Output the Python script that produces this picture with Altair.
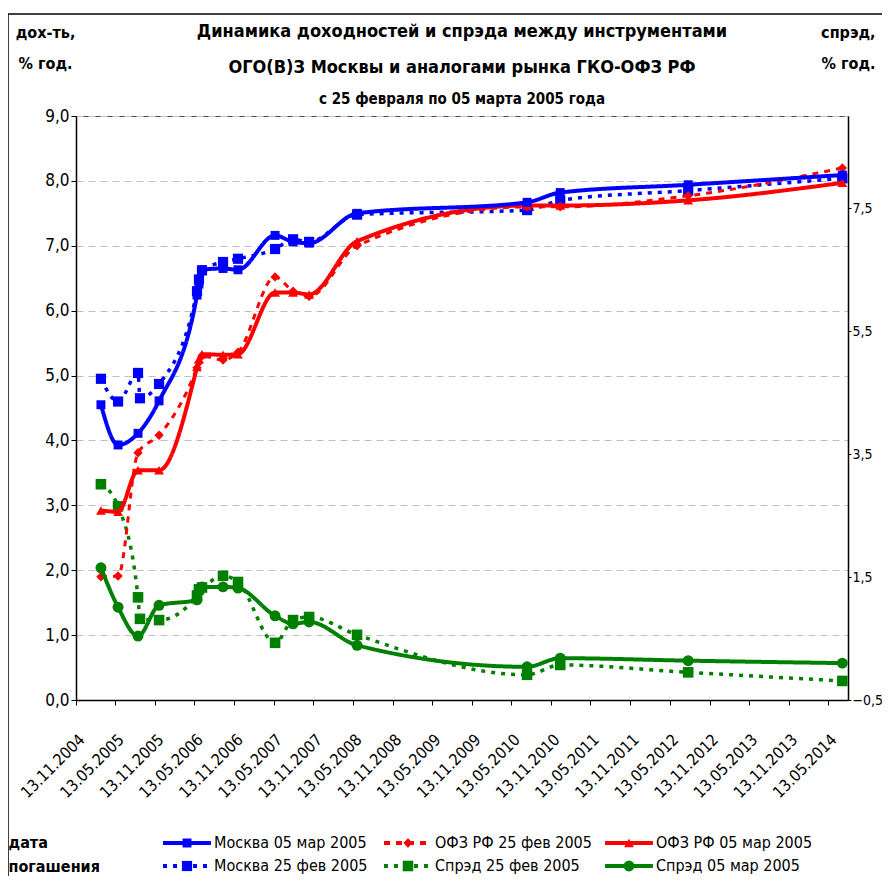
import altair as alt
import pandas as pd

FONT = "Liberation Sans Narrow, Arial Narrow, DejaVu Sans Condensed, sans-serif"

# ---- series styling -------------------------------------------------------
series_names = ["Москва 05 мар 2005", "ОФЗ РФ 25 фев 2005", "ОФЗ РФ 05 мар 2005",
                "Москва 25 фев 2005", "Спрэд 25 фев 2005", "Спрэд 05 мар 2005"]
series_colors = ["#0000FF", "#FF0000", "#FF0000", "#0000FF", "#008000", "#008000"]
series_dashes = [[1, 0], [6, 6], [1, 0], [4, 6], [4, 6], [1, 0]]
series_shapes = ["square", "diamond", "triangle-up", "square", "square", "circle"]
series_sizes = [80, 120, 120, 60, 60, 110]

# ---- data (maturity dates, yields %, spreads %) ----------------------------
dates_mar = ["2005-03-08", "2005-05-26", "2005-08-26", "2005-12-01", "2006-05-25",
             "2006-06-03", "2006-06-17", "2006-09-22", "2006-11-30", "2007-05-20",
             "2007-08-11", "2007-10-24", "2008-06-01", "2010-07-25", "2010-12-25",
             "2012-08-06", "2014-07-18"]
dates_feb = ["2005-03-08", "2005-05-26", "2005-08-26", "2005-09-04", "2005-12-01",
             "2006-05-25", "2006-06-03", "2006-06-17", "2006-09-22", "2006-11-30",
             "2007-05-20", "2007-08-11", "2007-10-24", "2008-06-01", "2010-07-25",
             "2010-12-25", "2012-08-06", "2014-07-18"]

moscow_mar = [4.55, 3.93, 4.11, 4.61, 6.24, 6.41, 6.63, 6.65, 6.63, 7.16, 7.06, 7.04,
              7.50, 7.67, 7.82, 7.94, 8.09]
ofz_mar = [2.92, 2.90, 3.54, 3.54, 5.13, 5.25, 5.33, 5.32, 5.33, 6.28, 6.28, 6.25,
           7.07, 7.62, 7.62, 7.70, 7.97]
spread_mar = [1.65, 1.01, 0.54, 1.04, 1.13, 1.27, 1.34, 1.34, 1.32, 0.87, 0.74, 0.77,
              0.39, 0.04, 0.18, 0.14, 0.10]

moscow_feb = [4.95, 4.60, 5.04, 4.65, 4.87, 6.30, 6.48, 6.62, 6.75, 6.80, 6.95, 7.10,
              7.06, 7.48, 7.55, 7.70, 7.85, 8.04]
ofz_feb = [1.90, 1.91, 3.81, 4.08, 5.12, 5.20, 5.30, 5.24, 5.36, 6.52, 6.30, 6.22,
           7.00, 7.60, 7.60, 7.77, 8.20]
spread_feb = [3.01, 2.65, 1.17, 0.82, 0.80, 1.20, 1.30, 1.33, 1.52, 1.42, 0.43, 0.80,
              0.85, 0.56, -0.09, 0.07, -0.05, -0.19]

tick_dates = ["2004-11-13", "2005-05-13", "2005-11-13", "2006-05-13", "2006-11-13",
              "2007-05-13", "2007-11-13", "2008-05-13", "2008-11-13", "2009-05-13",
              "2009-11-13", "2010-05-13", "2010-11-13", "2011-05-13", "2011-11-13",
              "2012-05-13", "2012-11-13", "2013-05-13", "2013-11-13", "2014-05-13"]
left_ticks = [0, 1, 2, 3, 4, 5, 6, 7, 8, 9]
right_ticks = [-0.5, 1.5, 3.5, 5.5, 7.5]

legend_col = [0, 1, 2, 0, 1, 2]
legend_row = [0, 0, 0, 1, 1, 1]


def dt(s):
    y, m, d = (int(p) for p in s.split("-"))
    return alt.DateTime(year=y, month=m, date=d, utc=True)


def frame(name, dates, values):
    return pd.DataFrame({"series": name, "date": dates, "value": values})


data_by_series = {
    series_names[0]: frame(series_names[0], dates_mar, moscow_mar),
    series_names[1]: frame(series_names[1], dates_mar, ofz_feb),
    series_names[2]: frame(series_names[2], dates_mar, ofz_mar),
    series_names[3]: frame(series_names[3], dates_feb, moscow_feb),
    series_names[4]: frame(series_names[4], dates_feb, spread_feb),
    series_names[5]: frame(series_names[5], dates_mar, spread_mar),
}

color_scale = alt.Scale(domain=series_names, range=series_colors)
dash_scale = alt.Scale(domain=series_names, range=series_dashes)
shape_scale = alt.Scale(domain=series_names, range=series_shapes)
size_scale = alt.Scale(domain=series_names, range=series_sizes)

x_scale = alt.Scale(type="utc", domain=[dt("2004-11-13"), dt("2014-08-13")])
y_left = alt.Scale(domain=[0, 9], nice=False, zero=False)
y_right = alt.Scale(domain=[-0.5, 9], nice=False, zero=False)

comma = "replace(format(datum.value, '.1f'), '.', ',')"

x_axis = alt.Axis(
    values=[dt(s) for s in tick_dates], format="%d.%m.%Y", labelAngle=-45,
    labelFont=FONT, labelFontSize=16, labelColor="black", labelOverlap=False,
    labelFlush=False, labelPadding=26, tickSize=5, tickColor="black",
    domainColor="black", domainWidth=1.5, grid=False,
    title=["дата", "погашения"], titleFont=FONT, titleFontSize=16,
    titleFontWeight="bold", titleColor="black", titleAngle=0, titleAlign="left",
    titleBaseline="middle", titleX=-68, titleY=142, titleLineHeight=24)

y_left_axis = alt.Axis(
    values=left_ticks, labelExpr=comma, labelFont=FONT, labelFontSize=17,
    labelColor="black", tickSize=5, tickColor="black", domainColor="black",
    domainWidth=1.5, grid=True, gridDash=[7, 5], gridColor="#c0c0c0",
    title=["дох-ть,", "% год."], titleFont=FONT, titleFontSize=16,
    titleFontWeight="bold", titleColor="black", titleAngle=0, titleAlign="center",
    titleBaseline="middle", titleX=-31, titleY=-84, titleLineHeight=31)

y_right_axis = alt.Axis(
    orient="right", values=right_ticks, labelExpr=comma, labelFont=FONT,
    labelFontSize=14, labelColor="black", labelPadding=1, tickSize=3,
    tickColor="black", domainColor="black", domainWidth=1.5, grid=False,
    title=["спрэд,", "% год."], titleFont=FONT, titleFontSize=16,
    titleFontWeight="bold", titleColor="black", titleAngle=0, titleAlign="right",
    titleBaseline="middle", titleX=27, titleY=-84, titleLineHeight=31)


def series_layers(name, width, y_scale, x_axis_def=None, y_axis_def=None):
    df = data_by_series[name]
    xenc = alt.X("date:T", scale=x_scale, axis=x_axis_def)
    yenc = alt.Y("value:Q", scale=y_scale, axis=y_axis_def)
    line = alt.Chart(df).mark_line(interpolate="monotone", strokeWidth=width).encode(
        x=xenc, y=yenc,
        color=alt.Color("series:N", scale=color_scale, legend=None),
        strokeDash=alt.StrokeDash("series:N", scale=dash_scale, legend=None),
    )
    pts = alt.Chart(df).mark_point(filled=True, opacity=1).encode(
        x=alt.X("date:T", scale=x_scale, axis=None),
        y=alt.Y("value:Q", scale=y_scale, axis=None),
        color=alt.Color("series:N", scale=color_scale, legend=None),
        shape=alt.Shape("series:N", scale=shape_scale, legend=None),
        size=alt.Size("series:N", scale=size_scale, legend=None),
    )
    return [line, pts]


layers = []
# dotted / dashed series first, solid ones on top
layers += series_layers(series_names[4], 3.5, y_right, y_axis_def=y_right_axis)
layers += series_layers(series_names[3], 3.5, y_left, x_axis_def=x_axis, y_axis_def=y_left_axis)
layers += series_layers(series_names[1], 3, y_left)
layers += series_layers(series_names[5], 4, y_right)
layers += series_layers(series_names[2], 4, y_left)
layers += series_layers(series_names[0], 4, y_left)

# ---- manual legend at the bottom -------------------------------------------
legend_df = pd.DataFrame({"series": series_names, "col": legend_col, "row": legend_row})
lx = alt.Scale(domain=[0, 3], range=[87, 750])
ly = alt.Scale(domain=[0, 1], range=[727, 750])
leg_base = alt.Chart(legend_df)
leg_line = leg_base.mark_rule(strokeWidth=4).transform_calculate(
    col2="datum.col + 0.217").encode(
    x=alt.X("col:Q", scale=lx, axis=None), x2="col2:Q",
    y=alt.Y("row:Q", scale=ly, axis=None),
    color=alt.Color("series:N", scale=color_scale, legend=None),
    strokeDash=alt.StrokeDash("series:N", scale=dash_scale, legend=None),
)
leg_pt = leg_base.mark_point(filled=True, opacity=1, xOffset=24).encode(
    x=alt.X("col:Q", scale=lx, axis=None),
    y=alt.Y("row:Q", scale=ly, axis=None),
    color=alt.Color("series:N", scale=color_scale, legend=None),
    shape=alt.Shape("series:N", scale=shape_scale, legend=None),
    size=alt.Size("series:N", scale=size_scale, legend=None),
)
leg_txt = leg_base.mark_text(align="left", baseline="middle", dx=51, font=FONT,
                             fontSize=16, color="black").encode(
    x=alt.X("col:Q", scale=lx, axis=None),
    y=alt.Y("row:Q", scale=ly, axis=None),
    text="series:N",
)
layers += [leg_line, leg_pt, leg_txt]

# ---- outer frame -------------------------------------------------------------
one = pd.DataFrame({"k": [0]})
frame_left = alt.Chart(one).mark_rule(color="black", strokeWidth=1.5).encode(
    x=alt.value(-68), y=alt.value(-102), y2=alt.value(760))
frame_top = alt.Chart(one).mark_rule(color="black", strokeWidth=1.5).encode(
    x=alt.value(-68), x2=alt.value(808), y=alt.value(-102))
layers += [frame_left, frame_top]

chart = alt.layer(*layers).resolve_scale(
    x="independent", y="independent"
).properties(
    width=772, height=584,
    autosize=alt.AutoSizeParams(type="none"),
    padding={"left": 68, "top": 108, "right": 34, "bottom": 178},
    background="white",
    title=alt.TitleParams(
        text=["Динамика  доходностей и спрэда между инструментами",
              "ОГО(В)З Москвы и аналогами рынка ГКО-ОФЗ РФ"],
        subtitle="с 25 февраля по 05 марта 2005 года",
        font=FONT, fontSize=18, fontWeight="bold", color="black", lineHeight=36,
        subtitleFont=FONT, subtitleFontSize=15, subtitleFontWeight="bold",
        subtitleColor="black", subtitlePadding=15, anchor="middle", frame="group",
        offset=-94),
).configure_view(stroke="#505050", strokeWidth=1)

chart.save("out.html", embed_options={"renderer": "svg", "actions": False})
